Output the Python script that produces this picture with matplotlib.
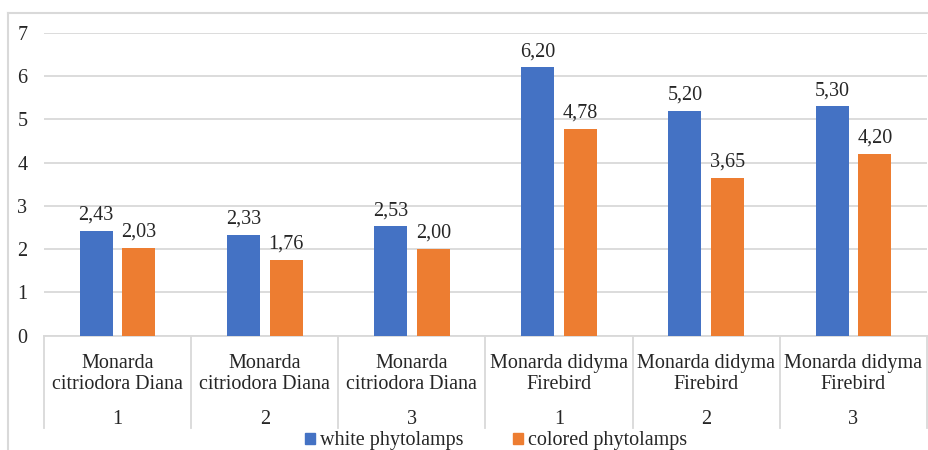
import matplotlib
matplotlib.use("Agg")
import matplotlib.pyplot as plt
from matplotlib.patches import Patch
from matplotlib.lines import Line2D
import matplotlib.transforms as mtransforms

plt.rcParams['font.family'] = 'serif'
plt.rcParams['font.serif'] = ['Liberation Serif', 'Times New Roman', 'DejaVu Serif']

species = ["Monarda\ncitriodora Diana", "Monarda\ncitriodora Diana", "Monarda\ncitriodora Diana",
           "Monarda didyma\nFirebird", "Monarda didyma\nFirebird", "Monarda didyma\nFirebird"]
replicates = ["1", "2", "3", "1", "2", "3"]
white_vals = [2.43, 2.33, 2.53, 6.20, 5.20, 5.30]
colored_vals = [2.03, 1.76, 2.00, 4.78, 3.65, 4.20]
series_names = ["white phytolamps", "colored phytolamps"]

BLUE = "#4472C4"
ORANGE = "#ED7D31"
GRID = "#D9D9D9"
TXT = "#262626"
W, H = 929, 450
FS = 14.5

fig = plt.figure(figsize=(W / 100, H / 100), dpi=100)
left, right = 44 / W, 927 / W
bottom, top = 1 - 335.7 / H, 1 - 32.7 / H
ax = fig.add_axes([left, bottom, right - left, top - bottom])

n = len(species)
xs = list(range(n))
bw = 0.224
off = 0.145
b1 = ax.bar([x - off for x in xs], white_vals, bw, color=BLUE, zorder=3)
b2 = ax.bar([x + off for x in xs], colored_vals, bw, color=ORANGE, zorder=3)

for bars, vals in ((b1, white_vals), (b2, colored_vals)):
    for rect, v in zip(bars, vals):
        ax.annotate(f"{v:.2f}".replace(".", ","),
                    (rect.get_x() + rect.get_width() / 2, v),
                    xytext=(0, 8), textcoords="offset points",
                    ha="center", va="baseline", fontsize=FS, color=TXT)

ax.set_xlim(-0.5, n - 0.5)
ax.set_ylim(0, 7)
ax.set_yticks(range(0, 8))
ax.tick_params(axis="y", length=0, pad=12, labelsize=FS, labelcolor=TXT)
ax.set_xticks([])
ax.grid(axis="y", color=GRID, linewidth=1.3, zorder=0)
for s in ("top", "right", "left"):
    ax.spines[s].set_visible(False)
ax.spines["bottom"].set_color(GRID)
ax.spines["bottom"].set_linewidth(1.3)

# multi-level category axis
trans = mtransforms.blended_transform_factory(ax.transData, ax.transAxes)
span = 335.7 - 32.7
sep_bottom = (335.7 - 428) / span
for b in range(n + 1):
    ax.add_line(Line2D([b - 0.5, b - 0.5], [0, sep_bottom], transform=trans,
                       color=GRID, linewidth=1.3, clip_on=False))
y_sp = (335.7 - 374) / span
y_rep = (335.7 - 420) / span
for x, sp, rp in zip(xs, species, replicates):
    ax.text(x, y_sp, sp, transform=trans, ha="center", va="center",
            fontsize=FS, color=TXT, linespacing=1.08)
    ax.text(x, y_rep, rp, transform=trans, ha="center", va="center",
            fontsize=FS, color=TXT)

# outer chart frame
fig.add_artist(Line2D([8 / W, 8 / W], [0, 1 - 13 / H], transform=fig.transFigure,
                      color=GRID, linewidth=1.5))
fig.add_artist(Line2D([8 / W, 1], [1 - 13 / H, 1 - 13 / H], transform=fig.transFigure,
                      color=GRID, linewidth=1.5))

handles = [Patch(color=BLUE), Patch(color=ORANGE)]
fig.legend(handles, series_names, loc="center", bbox_to_anchor=(0.534, 1 - 441 / H),
           ncol=2, frameon=False, fontsize=FS, handlelength=0.5, handleheight=0.5,
           handletextpad=0.25, columnspacing=2.45, labelcolor=TXT, borderaxespad=0,
           borderpad=0)

fig.savefig("out.png", dpi=100)
